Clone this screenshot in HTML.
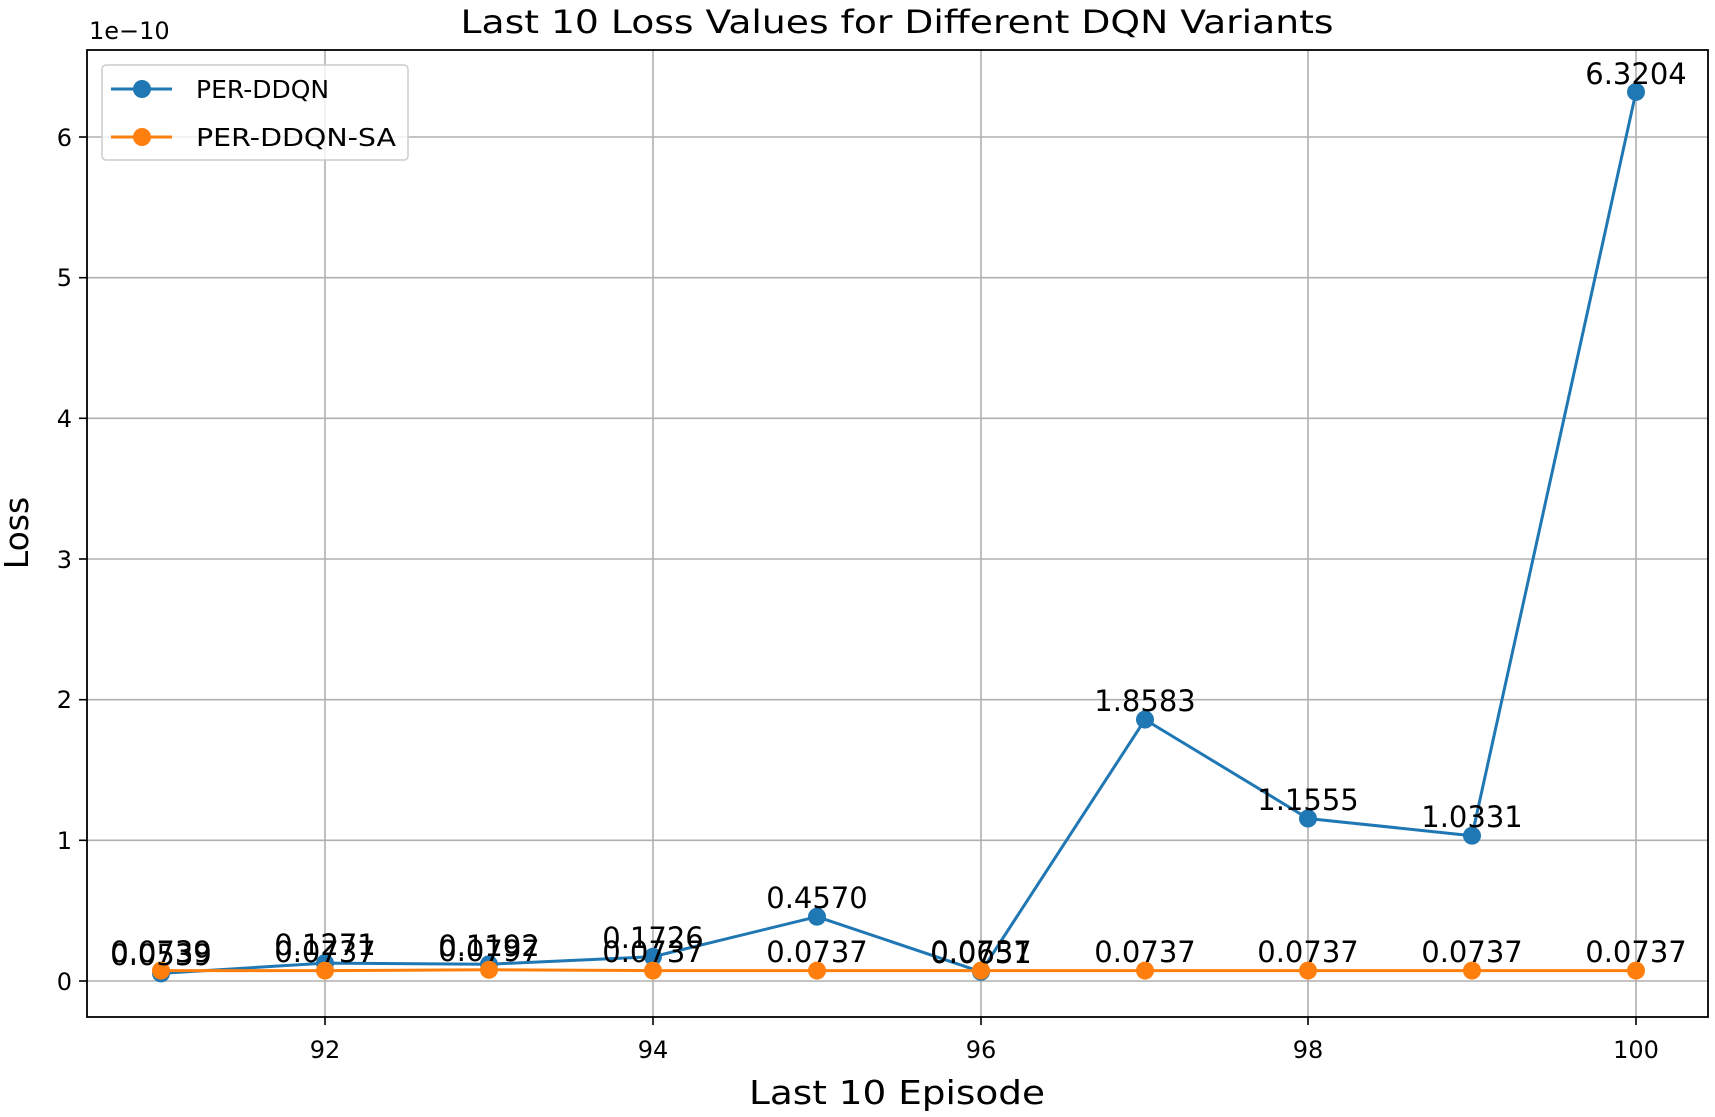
<!DOCTYPE html>
<html><head><meta charset="utf-8"><style>body{margin:0;background:#fff}svg{display:block}text{font-family:"DejaVu Sans","Liberation Sans",sans-serif;fill:#000}</style></head>
<body>
<svg width="1715" height="1117" viewBox="0 0 1715 1117">
<rect width="1715" height="1117" fill="#fff"/>
<g stroke="#b0b0b0" stroke-width="1.6">
<line x1="325" y1="50" x2="325" y2="1017"/><line x1="653" y1="50" x2="653" y2="1017"/><line x1="981" y1="50" x2="981" y2="1017"/><line x1="1308" y1="50" x2="1308" y2="1017"/><line x1="1636" y1="50" x2="1636" y2="1017"/>
<line x1="87" y1="981" x2="1708" y2="981"/><line x1="87" y1="840.3" x2="1708" y2="840.3"/><line x1="87" y1="699.7" x2="1708" y2="699.7"/><line x1="87" y1="559" x2="1708" y2="559"/><line x1="87" y1="418.3" x2="1708" y2="418.3"/><line x1="87" y1="277.7" x2="1708" y2="277.7"/><line x1="87" y1="137" x2="1708" y2="137"/>
</g>
<g stroke="#000" stroke-width="1.6">
<line x1="325" y1="1017" x2="325" y2="1025"/><line x1="653" y1="1017" x2="653" y2="1025"/><line x1="981" y1="1017" x2="981" y2="1025"/><line x1="1308" y1="1017" x2="1308" y2="1025"/><line x1="1636" y1="1017" x2="1636" y2="1025"/>
<line x1="79" y1="981" x2="87" y2="981"/><line x1="79" y1="840.3" x2="87" y2="840.3"/><line x1="79" y1="699.7" x2="87" y2="699.7"/><line x1="79" y1="559" x2="87" y2="559"/><line x1="79" y1="418.3" x2="87" y2="418.3"/><line x1="79" y1="277.7" x2="87" y2="277.7"/><line x1="79" y1="137" x2="87" y2="137"/>
</g>
<g font-size="24" text-anchor="middle">
<text x="325" y="1058">92</text><text x="653" y="1058">94</text><text x="981" y="1058">96</text><text x="1308" y="1058">98</text><text x="1636" y="1058">100</text>
</g>
<g font-size="24" text-anchor="end">
<text x="72" y="990">0</text><text x="72" y="849">1</text><text x="72" y="708">2</text><text x="72" y="568">3</text><text x="72" y="427">4</text><text x="72" y="286">5</text><text x="72" y="146">6</text>
</g>
<text x="89" y="39" font-size="24">1e−10</text>
<text x="897" y="33" font-size="32" text-anchor="middle" textLength="873" lengthAdjust="spacingAndGlyphs">Last 10 Loss Values for Different DQN Variants</text>
<text x="897" y="1104" font-size="33" text-anchor="middle" textLength="296" lengthAdjust="spacingAndGlyphs">Last 10 Episode</text>
<text transform="translate(28,533) rotate(-90)" font-size="33" text-anchor="middle">Loss</text>
<polyline fill="none" stroke="#1f77b4" stroke-width="3" points="161,973.4 325,963.1 489,964.2 653,956.7 817,916.7 981,971.8 1145,719.6 1308,818.5 1472,835.7 1636,91.9"/>
<polyline fill="none" stroke="#ff7f0e" stroke-width="3" points="161,970.6 325,970.6 489,969.8 653,970.6 817,970.6 981,970.6 1145,970.6 1308,970.6 1472,970.6 1636,970.6"/>
<g fill="#1f77b4">
<circle cx="161" cy="973.4" r="9"/><circle cx="325" cy="963.1" r="9"/><circle cx="489" cy="964.2" r="9"/><circle cx="653" cy="956.7" r="9"/><circle cx="817" cy="916.7" r="9"/><circle cx="981" cy="971.8" r="9"/><circle cx="1145" cy="719.6" r="9"/><circle cx="1308" cy="818.5" r="9"/><circle cx="1472" cy="835.7" r="9"/><circle cx="1636" cy="91.9" r="9"/>
</g>
<g fill="#ff7f0e">
<circle cx="161" cy="970.6" r="9"/><circle cx="325" cy="970.6" r="9"/><circle cx="489" cy="969.8" r="9"/><circle cx="653" cy="970.6" r="9"/><circle cx="817" cy="970.6" r="9"/><circle cx="981" cy="970.6" r="9"/><circle cx="1145" cy="970.6" r="9"/><circle cx="1308" cy="970.6" r="9"/><circle cx="1472" cy="970.6" r="9"/><circle cx="1636" cy="970.6" r="9"/>
</g>
<g font-size="29" text-anchor="middle">
<text x="161" y="965">0.0539</text><text x="325" y="955">0.1271</text><text x="489" y="956">0.1192</text><text x="653" y="948">0.1726</text><text x="817" y="908">0.4570</text><text x="981" y="963">0.0651</text><text x="1145" y="711">1.8583</text><text x="1308" y="810">1.1555</text><text x="1472" y="827">1.0331</text><text x="1636" y="84">6.3204</text>
<text x="161" y="962">0.0739</text><text x="325" y="962">0.0737</text><text x="489" y="961">0.0797</text><text x="653" y="962">0.0737</text><text x="817" y="962">0.0737</text><text x="981" y="962">0.0737</text><text x="1145" y="962">0.0737</text><text x="1308" y="962">0.0737</text><text x="1472" y="962">0.0737</text><text x="1636" y="962">0.0737</text>
</g>
<rect x="87" y="50" width="1621" height="967" fill="none" stroke="#000" stroke-width="1.8"/>
<rect x="102" y="65" width="306" height="95" rx="4" fill="#fff" fill-opacity="0.8" stroke="#ccc" stroke-width="1.5"/>
<line x1="111" y1="89" x2="172" y2="89" stroke="#1f77b4" stroke-width="3"/><circle cx="142" cy="89" r="9" fill="#1f77b4"/>
<line x1="111" y1="137" x2="172" y2="137" stroke="#ff7f0e" stroke-width="3"/><circle cx="142" cy="137" r="9" fill="#ff7f0e"/>
<text x="196" y="98" font-size="25">PER-DDQN</text>
<text x="196" y="146" font-size="25" textLength="200" lengthAdjust="spacingAndGlyphs">PER-DDQN-SA</text>
</svg>
</body></html>
